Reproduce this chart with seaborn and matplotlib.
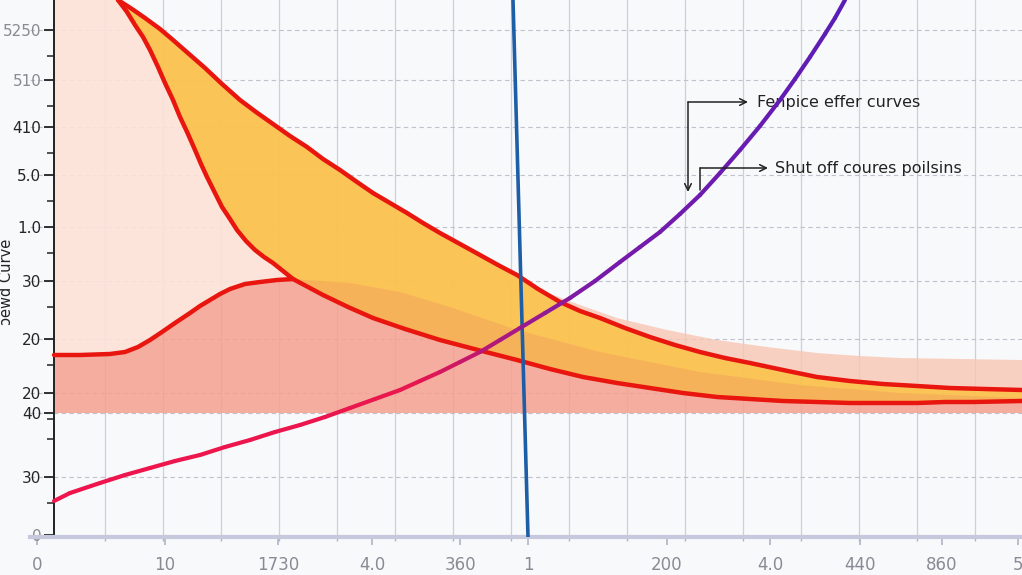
import numpy as np
import matplotlib
matplotlib.use('Agg')
import matplotlib.pyplot as plt
import seaborn as sns
from matplotlib.collections import LineCollection
from matplotlib.colors import LinearSegmentedColormap

# ── Data ──────────────────────────────────────────────────────────────────────
steep_x = [118, 127, 135, 143, 150, 158, 165, 173, 180, 188, 195, 201, 207, 215, 222,
           230, 237, 246, 255, 264, 273, 283, 293, 308, 323, 348, 373, 405, 440, 478,
           517, 550, 583, 617, 650, 683, 717, 750, 783, 817, 850, 883, 917, 945, 973, 1022]
steep_y = [537, 525, 512, 500, 487, 470, 454, 437, 420, 403, 387, 373, 360, 344, 330,
           318, 307, 296, 287, 280, 274, 266, 258, 250, 242, 230, 219, 208, 197, 187,
           177, 168, 160, 154, 149, 144, 140, 138, 136, 135, 134, 134, 134, 135, 135, 136]

upper_x = [118, 132, 145, 160, 173, 189, 205, 222, 240, 256, 273, 290, 307, 323, 340,
           357, 373, 390, 407, 423, 440, 460, 480, 498, 517, 538, 560, 580, 600, 625,
           650, 675, 700, 725, 750, 783, 817, 850, 883, 917, 950, 985, 1022]
upper_y = [537, 528, 519, 508, 497, 483, 469, 453, 437, 425, 413, 401, 390, 378, 367,
           355, 344, 334, 324, 314, 304, 293, 282, 272, 262, 248, 235, 226, 219, 209,
           200, 192, 185, 179, 174, 167, 160, 156, 153, 151, 149, 148, 147]

bump_x = [54, 80, 110, 125, 138, 150, 162, 175, 190, 200, 210, 220, 230, 245, 260, 277, 293]
bump_y = [182, 182, 183, 185, 190, 197, 205, 214, 224, 231, 237, 243, 248, 253, 255, 257, 258]

shadow_x = [293, 350, 400, 450, 517, 600, 700, 800, 900, 1022]
shadow_y = [258, 254, 245, 230, 207, 185, 165, 152, 144, 139]

band_x = [540, 580, 617, 667, 717, 767, 817, 860, 900, 960, 1022]
band_y = [247, 232, 219, 207, 197, 190, 184, 181, 179, 178, 177]

base_y = 124

rise_x = [54, 70, 100, 125, 150, 175, 200, 225, 250, 275, 300, 325, 350, 375, 400,
          420, 440, 460, 480, 500, 520, 545, 570, 595, 620, 640, 660, 680, 700, 720,
          740, 760, 780, 795, 810, 825, 835, 845]
rise_y = [36, 44, 54, 62, 69, 76, 82, 90, 97, 105, 112, 120, 129, 138, 147,
          156, 165, 175, 185, 197, 209, 224, 239, 256, 275, 290, 305, 323, 342, 364,
          387, 411, 437, 458, 480, 503, 519, 537]

marker_x = [528, 513]
marker_y = [0, 537]

ytick_pos = [507, 457, 410, 362, 310, 256, 198, 144, 124, 60, 2]
ytick_lab = ['5250', '510', '410', '5.0', '1.0', '30', '20', '20', '40', '30', '0']
xtick_pos = [37, 165, 278, 372, 460, 528, 667, 770, 860, 942, 1018]
xtick_lab = ['0', '10', '1730', '4.0', '360', '1', '200', '4.0', '440', '860', '5']

# ── Style ─────────────────────────────────────────────────────────────────────
sns.set_theme(style='white')
plt.rcParams['font.family'] = ['DejaVu Sans']

RED = '#e8160e'
fig = plt.figure(figsize=(10.22, 5.75), dpi=100, facecolor='#f8f9fb')
ax = fig.add_axes([30 / 1022, 38 / 575, 992 / 1022, 537 / 575])
ax.set_facecolor('#f8f9fb')
ax.set_xlim(30, 1022)
ax.set_ylim(0, 537)

# grid
ax.set_xticks(np.arange(105, 1022, 58), minor=True)
ax.grid(axis='x', which='minor', color='#cdcfdd', lw=0.9, zorder=0)
ax.set_yticks(ytick_pos)
ax.grid(axis='y', which='major', color='#bfc1cc', lw=0.8, ls=(0, (4, 3)), zorder=0)
ax.set_axisbelow(True)

# fills
cut = steep_x.index(293)
pink_x = [54] + steep_x[:cut + 1] + bump_x[::-1]
pink_y = [537] + steep_y[:cut + 1] + bump_y[::-1]
ax.fill(pink_x, pink_y, color='#fde2d8', alpha=0.9, lw=0, zorder=1)

salmon_x = bump_x + steep_x[cut + 1:] + [1022, 54]
salmon_y = bump_y + steep_y[cut + 1:] + [base_y, base_y]
ax.fill(salmon_x, salmon_y, color='#f5a090', alpha=0.85, lw=0, zorder=1)

ax.fill(upper_x + steep_x[::-1], upper_y + steep_y[::-1],
        color='#fbc24e', alpha=0.95, lw=0, zorder=2)

sh_x = shadow_x + steep_x[cut:][::-1]
sh_y = shadow_y + steep_y[cut:][::-1]
ax.fill(sh_x, sh_y, color='#f4a25a', alpha=0.5, lw=0, zorder=2)

up_tail = [i for i, v in enumerate(upper_x) if v >= 540]
ax.fill(band_x + [upper_x[i] for i in up_tail][::-1],
        band_y + [upper_y[i] for i in up_tail][::-1],
        color='#f9c6b4', alpha=0.8, lw=0, zorder=1)

# red curves
for xs, ys in [(steep_x, steep_y), (upper_x, upper_y), (bump_x, bump_y)]:
    sns.lineplot(x=xs, y=ys, sort=False, color=RED, lw=3.2, ax=ax, zorder=4)

# vertical marker
sns.lineplot(x=marker_x, y=marker_y, sort=False, color='#1d5ea6', lw=2.6, ax=ax, zorder=5)

# rising curve with pink→purple gradient
pts = np.column_stack([rise_x, rise_y]).reshape(-1, 1, 2)
segs = np.concatenate([pts[:-1], pts[1:]], axis=1)
cmap = LinearSegmentedColormap.from_list('rp', [(0, '#f0154c'), (0.4, '#e8174e'),
                                                (0.62, '#7a1aa8'), (1, '#5a1db8')])
lc = LineCollection(segs, cmap=cmap, lw=3.0, zorder=6, capstyle='round', joinstyle='round')
lc.set_array(np.linspace(0, 1, len(segs)))
ax.add_collection(lc)

# annotations
arr = dict(arrowstyle='->', color='#222222', lw=1.1, shrinkA=0, shrinkB=0)
ax.annotate('', xy=(748, 435), xytext=(688, 435), arrowprops=arr, zorder=7)
ax.annotate('', xy=(688, 345), xytext=(688, 435), arrowprops=arr, zorder=7)
ax.text(757, 435, 'Fenpice effer curves', fontsize=11.5, color='#222222', va='center')
ax.plot([700, 700], [347, 369], color='#222222', lw=1.1, zorder=7)
ax.annotate('', xy=(768, 369), xytext=(700, 369), arrowprops=arr, zorder=7)
ax.text(775, 369, 'Shut off coures poilsins', fontsize=11.5, color='#222222', va='center')

# axes
for s in ['top', 'right']:
    ax.spines[s].set_visible(False)
ax.spines['left'].set_position(('data', 54))
ax.spines['left'].set_color('#222222')
ax.spines['left'].set_linewidth(1.4)
ax.spines['bottom'].set_color('#c6c9dd')
ax.spines['bottom'].set_linewidth(3)

ax.set_yticklabels(ytick_lab, fontsize=11)
for lab in ax.get_yticklabels()[:2] + ax.get_yticklabels()[-1:]:
    lab.set_color('#8a8a90')
ax.set_yticks(np.array(ytick_pos[:-1]) - 26, minor=True)
ax.tick_params(axis='y', which='major', left=True, length=7, width=1.3, color='#222222', pad=2)
ax.tick_params(axis='y', which='minor', left=True, length=5, width=1.1, color='#222222')

ax.set_xticks(xtick_pos)
ax.set_xticklabels(xtick_lab, fontsize=12, color='#8a8a95')
ax.tick_params(axis='x', which='major', bottom=True, length=6, width=1.2, color='#b0b3c8', pad=8)
ax.tick_params(axis='x', which='minor', bottom=True, length=3, width=1.0, color='#b0b3c8')

fig.text(7 / 1022, 1 - 282 / 575, 'ɔewd Curve', rotation=90, fontsize=10.5,
         color='#222222', ha='center', va='center')

fig.savefig('out.png', dpi=100, facecolor=fig.get_facecolor())
